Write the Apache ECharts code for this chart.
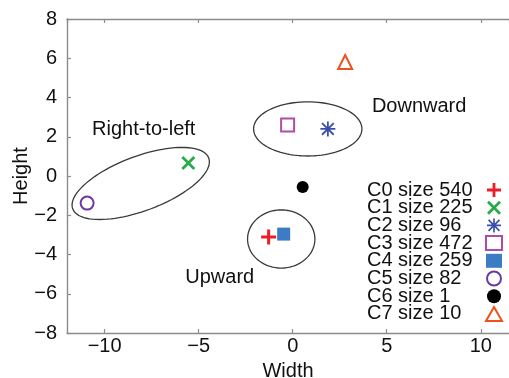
<!DOCTYPE html>
<html>
<head>
<meta charset="utf-8">
<script src="https://cdn.jsdelivr.net/npm/echarts@6/dist/echarts.min.js"></script>
<style>html,body{margin:0;padding:0;background:#fff}#c{width:509px;height:378px}</style>
</head>
<body>
<div id="c"></div>
<script>
// ---- data ----
const clusterNames = ['C0 size 540','C1 size 225','C2 size 96','C3 size 472','C4 size 259','C5 size 82','C6 size 1','C7 size 10'];
const clusterX = [-1.28, -5.55, 1.87, -0.27, -0.48, -10.93, 0.53, 2.79];
const clusterY = [-3.11, 0.66, 2.40, 2.60, -2.96, -1.38, -0.56, 5.81];
const ellipseCX = [-8.08, 0.80, -0.61];
const ellipseCY = [-0.38, 2.40, -3.21];
const ellipseRX = [3.86, 2.88, 1.79];
const ellipseRY = [1.39, 1.38, 1.48];
const ellipseAngle = [20.5, 0, 0];
const noteText = ['Right-to-left', 'Downward', 'Upward'];
const noteX = [-10.67, 4.21, -5.71];
const noteY = [2.39, 3.52, -5.15];

// ---- styles ----
const FONT = "'Liberation Sans', Arial, sans-serif";
const TXT = '#111';
const AX = '#8c8c8c';
const PLUS = 'path://M-0.2,-1H0.2V-0.2H1V0.2H0.2V1H-0.2V0.2H-1V-0.2H-0.2Z';
const XMARK = 'path://M-1,-0.72L-0.72,-1L0,-0.28L0.72,-1L1,-0.72L0.28,0L1,0.72L0.72,1L0,0.28L-0.72,1L-1,0.72L-0.28,0Z';
const STAR = 'path://M-0.12,-1H0.12V1H-0.12Z M-1,-0.12H1V0.12H-1Z M-0.695,-0.865L0.865,0.695L0.695,0.865L-0.865,-0.695Z M-0.865,0.695L0.695,-0.865L0.865,-0.695L-0.695,0.865Z';
const markers = [
  {symbol: PLUS, size: 15, style: {color: '#ee1c25'}},
  {symbol: XMARK, size: 14, style: {color: '#2aab4a'}},
  {symbol: STAR, size: 15, style: {color: '#3a4fa8'}},
  {symbol: 'emptyRect', size: 13, style: {color: '#b24ba8', borderWidth: 2.5}},
  {symbol: 'rect', size: 13, style: {color: '#3b7cc4'}},
  {symbol: 'emptyCircle', size: 13, style: {color: '#6b3aa0', borderWidth: 2.5}},
  {symbol: 'circle', size: 12, style: {color: '#000'}},
  {symbol: 'emptyTriangle', size: 14, style: {color: '#f0501e', borderWidth: 2.5}}
];

const series = clusterNames.map((n, i) => ({
  name: n, type: 'scatter', symbol: markers[i].symbol, symbolSize: markers[i].size,
  itemStyle: Object.assign({opacity: 1}, markers[i].style),
  data: [[clusterX[i], clusterY[i]]], z: 5, silent: true
}));

series.push({
  type: 'custom', silent: true, z: 3,
  data: ellipseCX.map((c, i) => [c, ellipseCY[i], ellipseRX[i], ellipseRY[i], ellipseAngle[i]]),
  renderItem: (params, api) => {
    const c = api.coord([api.value(0), api.value(1)]);
    const s = api.size([api.value(2), api.value(3)]);
    const a = api.value(4) * Math.PI / 180;
    const pts = [];
    for (let k = 0; k < 96; k++) {
      const t = k / 96 * 2 * Math.PI;
      const ex = s[0] * Math.cos(t), ey = s[1] * Math.sin(t);
      pts.push([c[0] + ex * Math.cos(a) + ey * Math.sin(a), c[1] - ex * Math.sin(a) + ey * Math.cos(a)]);
    }
    return {type: 'polygon', shape: {points: pts}, style: {fill: 'none', stroke: '#3a3a3a', lineWidth: 1.3}};
  }
});

series.push({
  type: 'scatter', silent: true, symbol: 'circle', symbolSize: 0, z: 4,
  data: noteX.map((x, i) => [x, noteY[i], noteText[i]]),
  label: {show: true, position: 'right', distance: 0, formatter: p => p.value[2],
    fontSize: 20, fontFamily: FONT, color: TXT, opacity: 1, textBorderWidth: 0}
});

const minus = v => (v < 0 ? '\u2212' + Math.abs(v) : String(v));
const axisCommon = {
  axisLine: {show: true, onZero: false, lineStyle: {color: AX, width: 1.4}},
  axisTick: {show: true, inside: true, length: 4, lineStyle: {color: AX, width: 1.2}},
  splitLine: {show: false}
};

const chart = echarts.init(document.getElementById('c'));
chart.setOption({
  animation: false,
  backgroundColor: '#fff',
  grid: {left: 67, top: 19, right: 0, bottom: 45, containLabel: false, outerBoundsMode: 'none'},
  xAxis: [
    Object.assign({
      type: 'value', min: -12, max: 11.5, splitNumber: 5,
      name: 'Width', nameLocation: 'middle', nameGap: 28, nameMoveOverlap: false,
      nameTextStyle: {fontSize: 20, fontFamily: FONT, color: TXT},
      axisLabel: {fontSize: 20, fontFamily: FONT, color: TXT, margin: 3, formatter: minus,
        showMinLabel: false, showMaxLabel: false}
    }, axisCommon),
    Object.assign({
      type: 'value', min: -12, max: 11.5, splitNumber: 5, position: 'top',
      axisLabel: {show: false}
    }, axisCommon)
  ],
  yAxis: Object.assign({
    type: 'value', min: -8, max: 8, interval: 2,
    name: 'Height', nameLocation: 'middle', nameGap: 36, nameMoveOverlap: false,
    nameTextStyle: {fontSize: 20, fontFamily: FONT, color: TXT},
    axisLabel: {fontSize: 20, fontFamily: FONT, color: TXT, margin: 10, formatter: minus}
  }, axisCommon),
  legend: {
    data: clusterNames, orient: 'vertical', right: 1, top: 175, align: 'right',
    itemWidth: 16, itemHeight: 14, itemGap: -2.3, selectedMode: false,
    formatter: n => '{a|' + n + '}',
    textStyle: {rich: {a: {width: 114, align: 'left', fontSize: 20, lineHeight: 17.7, fontFamily: FONT, color: TXT}}}
  },
  series: series
});
</script>
</body>
</html>
